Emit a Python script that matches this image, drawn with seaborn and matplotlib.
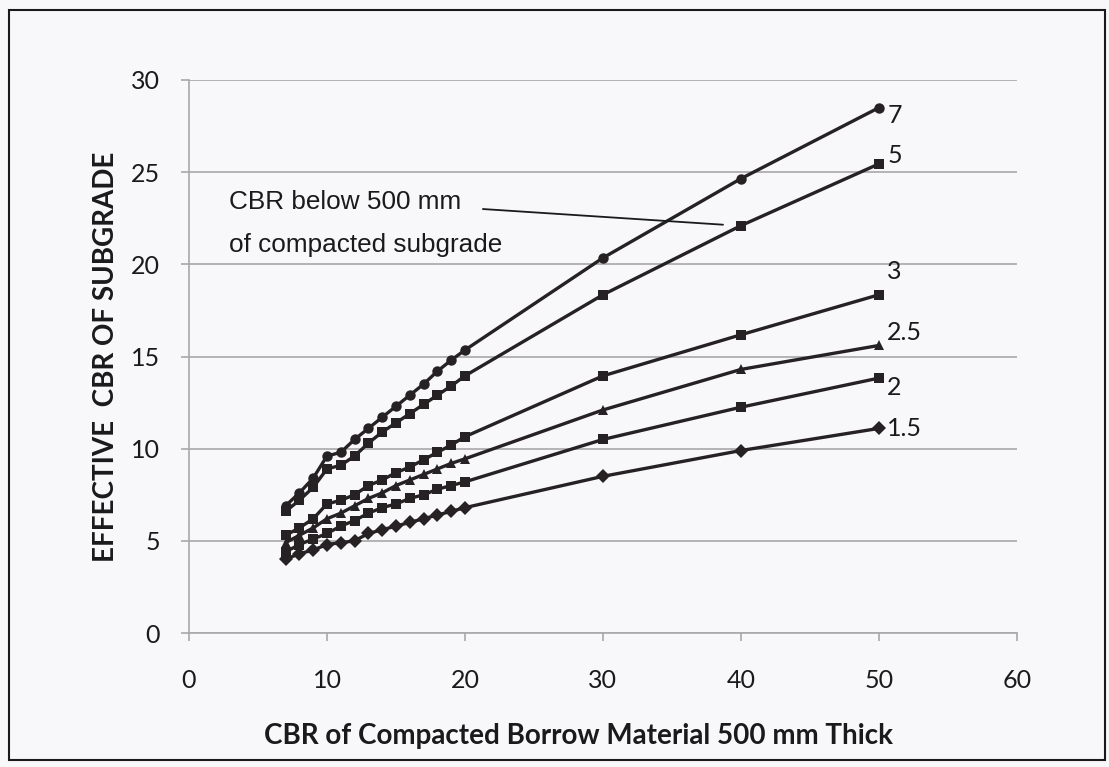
import pandas as pd
import seaborn as sns
import matplotlib.pyplot as plt
from matplotlib.patches import Rectangle

# CBR of compacted borrow material (x) and effective CBR of subgrade, one list per subgrade CBR
borrow_cbr = [7, 8, 9, 10, 11, 12, 13, 14, 15, 16, 17, 18, 19, 20, 30, 40, 50]
cbr_7 = [6.9, 7.6, 8.4, 9.6, 9.8, 10.5, 11.1, 11.7, 12.3, 12.9, 13.5, 14.2, 14.8, 15.35, 20.35, 24.65, 28.5]
cbr_5 = [6.6, 7.2, 7.9, 8.9, 9.1, 9.6, 10.3, 10.9, 11.4, 11.9, 12.4, 12.9, 13.4, 13.95, 18.35, 22.1, 25.45]
cbr_3 = [5.3, 5.7, 6.2, 7.0, 7.2, 7.5, 8.0, 8.3, 8.7, 9.0, 9.4, 9.8, 10.2, 10.65, 13.95, 16.18, 18.35]
cbr_25 = [4.9, 5.3, 5.7, 6.2, 6.5, 6.9, 7.3, 7.6, 8.0, 8.3, 8.6, 8.9, 9.2, 9.45, 12.1, 14.3, 15.6]
cbr_2 = [4.4, 4.8, 5.1, 5.4, 5.8, 6.1, 6.5, 6.8, 7.0, 7.3, 7.5, 7.8, 8.0, 8.2, 10.5, 12.25, 13.83]
cbr_15 = [4.0, 4.3, 4.5, 4.8, 4.9, 5.0, 5.4, 5.6, 5.8, 6.0, 6.2, 6.4, 6.6, 6.8, 8.5, 9.9, 11.1]

series_names = ["7", "5", "3", "2.5", "2", "1.5"]
series_values = [cbr_7, cbr_5, cbr_3, cbr_25, cbr_2, cbr_15]
series_markers = {"7": "o", "5": "s", "3": "s", "2.5": "^", "2": "s", "1.5": "D"}
# label offsets (points) from each curve's last point
label_offsets = {"7": (6, -6), "5": (6, 6), "3": (6, 17), "2.5": (6, 9), "2": (6, -7), "1.5": (6, 0)}

rows = []
for name, vals in zip(series_names, series_values):
    for x, y in zip(borrow_cbr, vals):
        rows.append({"borrow": x, "effective": y, "subgrade": name})
df = pd.DataFrame(rows)

sns.set_style("white")
plt.rcParams["font.family"] = ["Lato", "DejaVu Sans"]

bg = "#f8f7fa"
ink = "#262224"
fig = plt.figure(figsize=(11.09, 7.67), dpi=100, facecolor=bg)
ax = fig.add_axes([0.1704, 0.1747, 0.7466, 0.7210])
ax.set_facecolor(bg)

sns.lineplot(data=df, x="borrow", y="effective", hue="subgrade", style="subgrade",
             palette={n: ink for n in series_names}, markers=series_markers, dashes=False,
             markersize=7.5, linewidth=2.4, markeredgewidth=0, legend=False, ax=ax, sort=False)

for name, vals in zip(series_names, series_values):
    ax.annotate(name, (borrow_cbr[-1], vals[-1]), xytext=label_offsets[name],
                textcoords="offset points", fontsize=18, color="#1a1a1a", va="center", ha="left")

ax.set_xlim(0, 60)
ax.set_ylim(0, 30)
ax.set_xticks(range(0, 61, 10))
ax.set_yticks(range(0, 31, 5))
ax.grid(axis="y", color="#a8a8a8", linewidth=1.2)
ax.grid(axis="x", visible=False)
for side in ["top", "right"]:
    ax.spines[side].set_visible(False)
for side in ["left", "bottom"]:
    ax.spines[side].set_color("#a8a8a8")
    ax.spines[side].set_linewidth(1.2)
ax.tick_params(axis="x", length=6, color="#a8a8a8", width=1.2, pad=20, labelsize=18, labelcolor="#1a1a1a")
ax.tick_params(axis="y", length=6, color="#a8a8a8", width=1.2, pad=15, labelsize=18, labelcolor="#1a1a1a")
ax.tick_params(bottom=True, left=True)

ax.set_xlabel("CBR of Compacted Borrow Material 500 mm Thick", fontsize=20, fontweight="bold",
              color="#1a1a1a")
ax.xaxis.set_label_coords(0.47, -0.162)
ax.set_ylabel("EFFECTIVE  CBR OF SUBGRADE", fontsize=20, fontweight="bold",
              color="#1a1a1a")
ax.yaxis.set_label_coords(-0.085, 0.5)

# callout for the curves
ax.text(2.9, 23.4, "CBR below 500 mm", fontsize=18.8, family="Liberation Sans", va="center", color="#1a1a1a")
ax.text(2.9, 21.06, "of compacted subgrade", fontsize=18.8, family="Liberation Sans", va="center", color="#1a1a1a")
ax.annotate("", xy=(38.7, 22.15), xytext=(21.3, 23.0),
            arrowprops=dict(arrowstyle="-", color="#1a1a1a", lw=1.3, shrinkA=0, shrinkB=0))

fig.patches.append(Rectangle((9 / 1109, 1 - 760 / 767), 1096 / 1109, 750 / 767,
                             transform=fig.transFigure, fill=False, edgecolor="#1a1a1a", linewidth=1.5))

fig.savefig("out.png", dpi=100, facecolor=bg)
